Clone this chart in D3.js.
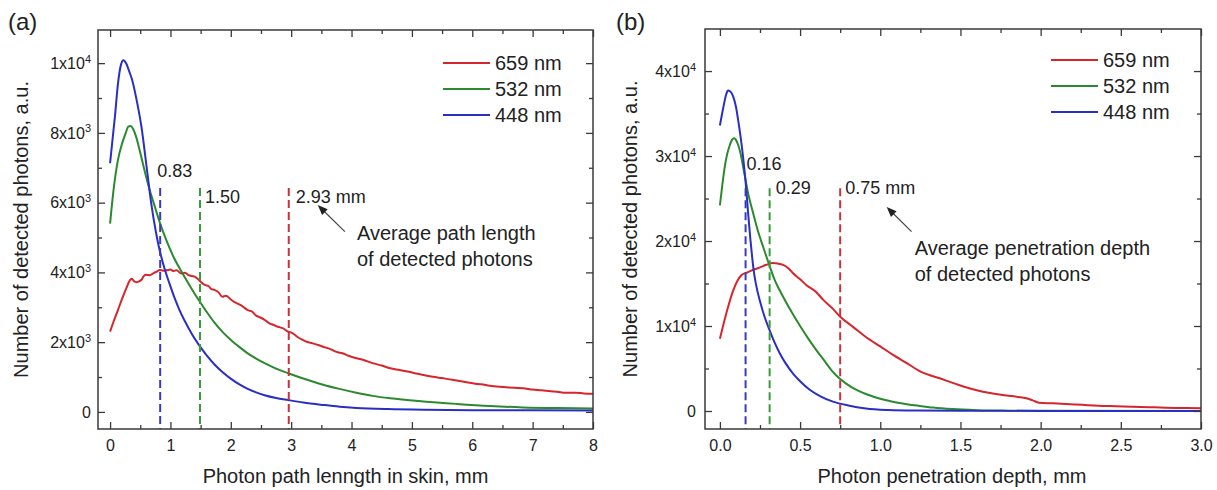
<!DOCTYPE html>
<html><head><meta charset="utf-8">
<script src="https://cdn.jsdelivr.net/npm/d3@7"></script>
<style>
html,body{margin:0;padding:0;background:#fff;}
svg{display:block;font-family:"Liberation Sans",Arial,sans-serif;}
</style></head>
<body>
<svg id="chart" width="1217" height="490"></svg>
<script>
// ---------------- DATA ----------------
const seriesNames = ["659 nm", "532 nm", "448 nm"];
const seriesColors = ["#d7252c", "#2b8a2e", "#2a2fc4"];
const dashColors = ["#c8323a", "#3a9a3c", "#3a3ac0"];

// Panel (a): photon path length in skin (mm) vs detected photons
const pathLen659 = [[0,2300],[0.06,2600],[0.13,2920],[0.2,3250],[0.27,3550],[0.33,3780],[0.36,3820],[0.4,3740],[0.44,3720],[0.48,3740],[0.52,3790],[0.56,3900],[0.6,3930],[0.66,3920],[0.72,3980],[0.78,4030],[0.82,4070],[0.88,4050],[0.94,4060],[1.0,4080],[1.05,4040],[1.1,4060],[1.18,3970],[1.24,3990],[1.3,3920],[1.4,3880],[1.45,3820],[1.52,3700],[1.57,3640],[1.63,3610],[1.68,3520],[1.73,3500],[1.8,3420],[1.86,3300],[1.92,3330],[2.01,3210],[2.08,3130],[2.14,3080],[2.2,3020],[2.28,2920],[2.35,2880],[2.42,2760],[2.5,2700],[2.56,2640],[2.64,2540],[2.7,2500],[2.78,2440],[2.86,2400],[2.95,2300],[3.02,2260],[3.11,2140],[3.2,2060],[3.26,2010],[3.35,1970],[3.45,1920],[3.53,1870],[3.65,1800],[3.75,1720],[3.85,1680],[3.95,1610],[4.08,1540],[4.2,1490],[4.35,1400],[4.5,1330],[4.64,1250],[4.8,1200],[4.95,1150],[5.05,1110],[5.19,1060],[5.35,1010],[5.5,970],[5.6,940],[5.74,900],[5.9,850],[6.05,810],[6.15,790],[6.29,750],[6.45,720],[6.6,700],[6.7,690],[6.84,680],[7.0,640],[7.15,620],[7.3,590],[7.4,580],[7.55,550],[7.7,550],[7.85,530],[8.0,520]];
const pathLen532 = [[0,5400],[0.06,6400],[0.13,7220],[0.2,7700],[0.26,8000],[0.3,8180],[0.34,8200],[0.38,8120],[0.43,7900],[0.49,7500],[0.57,6930],[0.65,6400],[0.73,5950],[0.82,5450],[0.93,4930],[1.05,4450],[1.18,4030],[1.32,3620],[1.46,3230],[1.6,2870],[1.73,2560],[1.87,2280],[2.01,2050],[2.15,1850],[2.28,1680],[2.42,1530],[2.56,1400],[2.75,1240],[2.95,1110],[3.25,930],[3.53,780],[3.8,660],[4.08,550],[4.35,460],[4.64,390],[5.19,300],[5.74,230],[6.29,170],[6.84,130],[7.4,110],[8,100]];
const pathLen448 = [[0,7130],[0.04,7800],[0.08,8460],[0.13,9400],[0.18,9950],[0.22,10080],[0.27,9980],[0.32,9750],[0.36,9550],[0.44,8940],[0.52,8170],[0.6,7100],[0.68,6000],[0.76,5150],[0.82,4640],[0.91,4070],[1.0,3600],[1.07,3260],[1.15,2920],[1.24,2600],[1.35,2250],[1.46,1950],[1.6,1620],[1.73,1360],[1.87,1130],[2.01,940],[2.15,780],[2.28,660],[2.42,560],[2.56,480],[2.75,400],[2.95,340],[3.2,270],[3.53,200],[3.8,150],[4.08,115],[4.6,80],[5.2,60],[6,50],[7,45],[8,40]];

// Panel (b): photon penetration depth (mm) vs detected photons
const depth659 = [[0,8500],[0.04,11500],[0.083,14200],[0.135,16000],[0.17,16300],[0.207,16600],[0.25,16900],[0.29,17200],[0.33,17400],[0.36,17350],[0.394,17200],[0.43,16750],[0.456,16200],[0.5,15500],[0.54,14800],[0.6,14000],[0.643,13100],[0.7,12100],[0.75,11100],[0.83,9900],[0.91,8700],[1.0,7600],[1.08,6600],[1.16,5700],[1.245,4700],[1.31,4200],[1.37,3850],[1.43,3450],[1.49,3060],[1.56,2650],[1.64,2270],[1.72,2000],[1.8,1800],[1.86,1650],[1.91,1500],[1.95,1250],[1.99,980],[2.08,900],[2.16,820],[2.26,720],[2.36,620],[2.47,560],[2.57,500],[2.68,450],[2.78,390],[2.88,350],[3.0,320]];
const depth532 = [[0,24200],[0.015,26600],[0.03,28700],[0.045,30200],[0.062,31300],[0.075,31900],[0.089,32100],[0.1,31900],[0.114,31300],[0.13,30200],[0.145,28700],[0.16,27200],[0.176,25600],[0.197,24000],[0.218,22500],[0.245,20700],[0.27,19300],[0.311,17000],[0.34,15500],[0.373,14200],[0.43,12200],[0.5,10000],[0.55,8550],[0.6,7200],[0.65,5950],[0.7,4700],[0.75,3750],[0.82,2800],[0.91,2000],[1.0,1450],[1.12,950],[1.245,600],[1.33,400],[1.45,220],[1.6,100],[1.8,40],[2.0,20],[3.0,0]];
const depth448 = [[0,33600],[0.02,35600],[0.04,37300],[0.05,37700],[0.065,37600],[0.083,37000],[0.1,35800],[0.114,34200],[0.13,32100],[0.145,29800],[0.16,27000],[0.175,23500],[0.19,20200],[0.2,18300],[0.21,16600],[0.225,14900],[0.25,12900],[0.28,11000],[0.31,9500],[0.34,8100],[0.373,6800],[0.41,5600],[0.456,4400],[0.5,3500],[0.56,2500],[0.63,1700],[0.705,1100],[0.8,650],[0.91,300],[1.05,120],[1.22,50],[1.5,20],[2,10],[3,0]];

// averages (dashed markers)
const avgPathPos = [2.96, 1.49, 0.83];
const avgPathLabels = ["2.93 mm", "1.50", "0.83"];
const avgDepthPos = [0.75, 0.31, 0.16];
const avgDepthLabels = ["0.75 mm", "0.29", "0.16"];

// axes ticks
const xTicksA = [0,1,2,3,4,5,6,7,8];
const xMinorA = [0.5,1.5,2.5,3.5,4.5,5.5,6.5,7.5];
const yTicksA = [0,2000,4000,6000,8000,10000];
const yMinorA = [1000,3000,5000,7000,9000];
const xTicksB = [0,0.5,1,1.5,2,2.5,3];
const xMinorB = [0.25,0.75,1.25,1.75,2.25,2.75];
const yTicksB = [0,10000,20000,30000,40000];
const yMinorB = [5000,15000,25000,35000];

const panelTitles = ["(a)", "(b)"];
const xTitles = ["Photon path lenngth in skin, mm", "Photon penetration depth, mm"];
const yTitle = "Number of detected photons, a.u.";
const noteA = ["Average path length", "of detected photons"];
const noteB = ["Average penetration depth", "of detected photons"];

// ---------------- DRAW ----------------
const svg = d3.select("#chart");
const textColor = "#222";
const frameColor = "#3a3a3a";

function sciFormat(sel, v) {
  sel.text(null);
  if (v === 0) { sel.text("0"); return; }
  const e = Math.floor(Math.log10(v) + 1e-9);
  const m = Math.round(v / Math.pow(10, e));
  sel.append("tspan").text(m + "x10");
  sel.append("tspan").attr("font-size", "11px").attr("dy", "-0.55em").text(e);
}

function panel(cfg) {
  const g = svg.append("g");
  const x = d3.scaleLinear().domain(cfg.xDomain).range([cfg.left, cfg.right]);
  const y = d3.scaleLinear().domain(cfg.yDomain).range([cfg.bottom, cfg.top]);

  // curves
  const line = d3.line().x(d => x(d[0])).y(d => y(d[1])).curve(d3.curveMonotoneX);
  cfg.series.forEach((s, i) => {
    g.append("path").datum(s).attr("d", line)
      .attr("fill", "none").attr("stroke", seriesColors[i]).attr("stroke-width", 2)
      .attr("stroke-linejoin", "round");
  });

  // dashed average lines
  cfg.avgPos.forEach((p, i) => {
    g.append("line")
      .attr("x1", x(p)).attr("x2", x(p))
      .attr("y1", y(cfg.dashTop)).attr("y2", cfg.bottom)
      .attr("stroke", dashColors[i]).attr("stroke-width", 2)
      .attr("stroke-dasharray", "8,4");
  });
  cfg.avgLabels.forEach((t, i) => {
    g.append("text").attr("x", x(cfg.avgPos[i]) + cfg.labelDx[i])
      .attr("y", y(cfg.labelY[i]))
      .attr("font-size", "18px").attr("fill", textColor).text(t);
  });

  // frame
  g.append("rect").attr("x", cfg.left).attr("y", cfg.top)
    .attr("width", cfg.right - cfg.left).attr("height", cfg.bottom - cfg.top)
    .attr("fill", "none").attr("stroke", frameColor).attr("stroke-width", 1.5);

  // axes with inward ticks
  const styleAxis = sel => {
    sel.select(".domain").remove();
    sel.selectAll("line").attr("stroke", frameColor).attr("stroke-width", 1.3);
    sel.selectAll("text").attr("fill", textColor).attr("font-size", "16px")
      .attr("font-family", "Liberation Sans, Arial, sans-serif");
  };
  g.append("g").attr("transform", `translate(0,${cfg.bottom})`)
    .call(d3.axisBottom(x).tickValues(cfg.xTicks).tickSize(-7).tickPadding(11).tickFormat(cfg.xFmt)).call(styleAxis);
  g.append("g").attr("transform", `translate(0,${cfg.bottom})`)
    .call(d3.axisBottom(x).tickValues(cfg.xMinor).tickSize(-4).tickFormat("")).call(styleAxis);
  g.append("g").attr("transform", `translate(0,${cfg.top})`)
    .call(d3.axisTop(x).tickValues(cfg.xTicks).tickSize(-7).tickFormat("")).call(styleAxis);
  g.append("g").attr("transform", `translate(0,${cfg.top})`)
    .call(d3.axisTop(x).tickValues(cfg.xMinor).tickSize(-4).tickFormat("")).call(styleAxis);
  const ly = g.append("g").attr("transform", `translate(${cfg.left},0)`)
    .call(d3.axisLeft(y).tickValues(cfg.yTicks).tickSize(-7).tickPadding(cfg.yPad)).call(styleAxis);
  ly.selectAll(".tick text").each(function(d) { sciFormat(d3.select(this), d); });
  g.append("g").attr("transform", `translate(${cfg.left},0)`)
    .call(d3.axisLeft(y).tickValues(cfg.yMinor).tickSize(-4).tickFormat("")).call(styleAxis);
  g.append("g").attr("transform", `translate(${cfg.right},0)`)
    .call(d3.axisRight(y).tickValues(cfg.yTicks).tickSize(-7).tickFormat("")).call(styleAxis);
  g.append("g").attr("transform", `translate(${cfg.right},0)`)
    .call(d3.axisRight(y).tickValues(cfg.yMinor).tickSize(-4).tickFormat("")).call(styleAxis);

  // titles
  g.append("text").attr("x", (cfg.left + cfg.right) / 2 + cfg.xTitleDx).attr("y", 483)
    .attr("text-anchor", "middle").attr("font-size", "20px").attr("fill", textColor).text(cfg.xTitle);
  g.append("text").attr("transform", `translate(${cfg.yTitleX},${(cfg.top + cfg.bottom) / 2}) rotate(-90)`)
    .attr("text-anchor", "middle").attr("font-size", "20px").attr("fill", textColor).text(yTitle);
  g.append("text").attr("x", cfg.panelX).attr("y", 30).attr("font-size", "24px").attr("fill", textColor).text(cfg.panelTitle);

  // legend
  seriesNames.forEach((n, i) => {
    const yy = cfg.legY + i * 26;
    g.append("line").attr("x1", cfg.legX).attr("x2", cfg.legX + 47).attr("y1", yy).attr("y2", yy)
      .attr("stroke", seriesColors[i]).attr("stroke-width", 2);
    g.append("text").attr("x", cfg.legX + 52).attr("y", yy + 7).attr("font-size", "20px")
      .attr("fill", textColor).text(n);
  });

  // arrow annotation
  const a = cfg.arrow;
  const hx = x(a[0]), hy = y(a[1]), tx = x(a[2]), ty = y(a[3]);
  const ang = Math.atan2(hy - ty, hx - tx);
  g.append("line").attr("x1", tx).attr("y1", ty).attr("x2", hx - 6 * Math.cos(ang)).attr("y2", hy - 6 * Math.sin(ang))
    .attr("stroke", "#444").attr("stroke-width", 1.2);
  const hl = 10, hw = 4;
  const bx = hx - hl * Math.cos(ang), by = hy - hl * Math.sin(ang);
  g.append("path").attr("d", `M${hx},${hy}L${bx - hw * Math.sin(ang)},${by + hw * Math.cos(ang)}L${bx + hw * Math.sin(ang)},${by - hw * Math.cos(ang)}Z`)
    .attr("fill", "#222");
  cfg.note.forEach((t, i) => {
    g.append("text").attr("x", x(cfg.notePos[0])).attr("y", y(cfg.notePos[1]) + i * 26)
      .attr("font-size", "20px").attr("fill", textColor).text(t);
  });
}

panel({
  left: 98, right: 593, top: 30, bottom: 429,
  xDomain: [-0.2, 8], yDomain: [-490, 10950],
  series: [pathLen659, pathLen532, pathLen448],
  avgPos: avgPathPos, avgLabels: avgPathLabels,
  dashTop: 6420, labelDx: [7, 5, -3], labelY: [6000, 6000, 6730],
  xTicks: xTicksA, xMinor: xMinorA, yTicks: yTicksA, yMinor: yMinorA,
  xFmt: d3.format("d"), yPad: 7,
  xTitle: xTitles[0], xTitleDx: 0, yTitleX: 28, panelX: 8, panelTitle: panelTitles[0],
  legX: 443, legY: 63,
  arrow: [3.44, 5930, 3.89, 5170],
  note: noteA, notePos: [4.09, 4930]
});

panel({
  left: 705, right: 1201, top: 29, bottom: 429,
  xDomain: [-0.093, 3], yDomain: [-2120, 44950],
  series: [depth659, depth532, depth448],
  avgPos: avgDepthPos, avgLabels: avgDepthLabels,
  dashTop: 26200, labelDx: [5, 6, 1], labelY: [25500, 25500, 28400],
  xTicks: xTicksB, xMinor: xMinorB, yTicks: yTicksB, yMinor: yMinorB,
  xFmt: d3.format(".1f"), yPad: 9,
  xTitle: xTitles[1], xTitleDx: -1, yTitleX: 637, panelX: 616, panelTitle: panelTitles[1],
  legX: 1051, legY: 60,
  arrow: [1.04, 24000, 1.195, 21100],
  note: noteB, notePos: [1.215, 18300]
});
</script>
</body></html>
